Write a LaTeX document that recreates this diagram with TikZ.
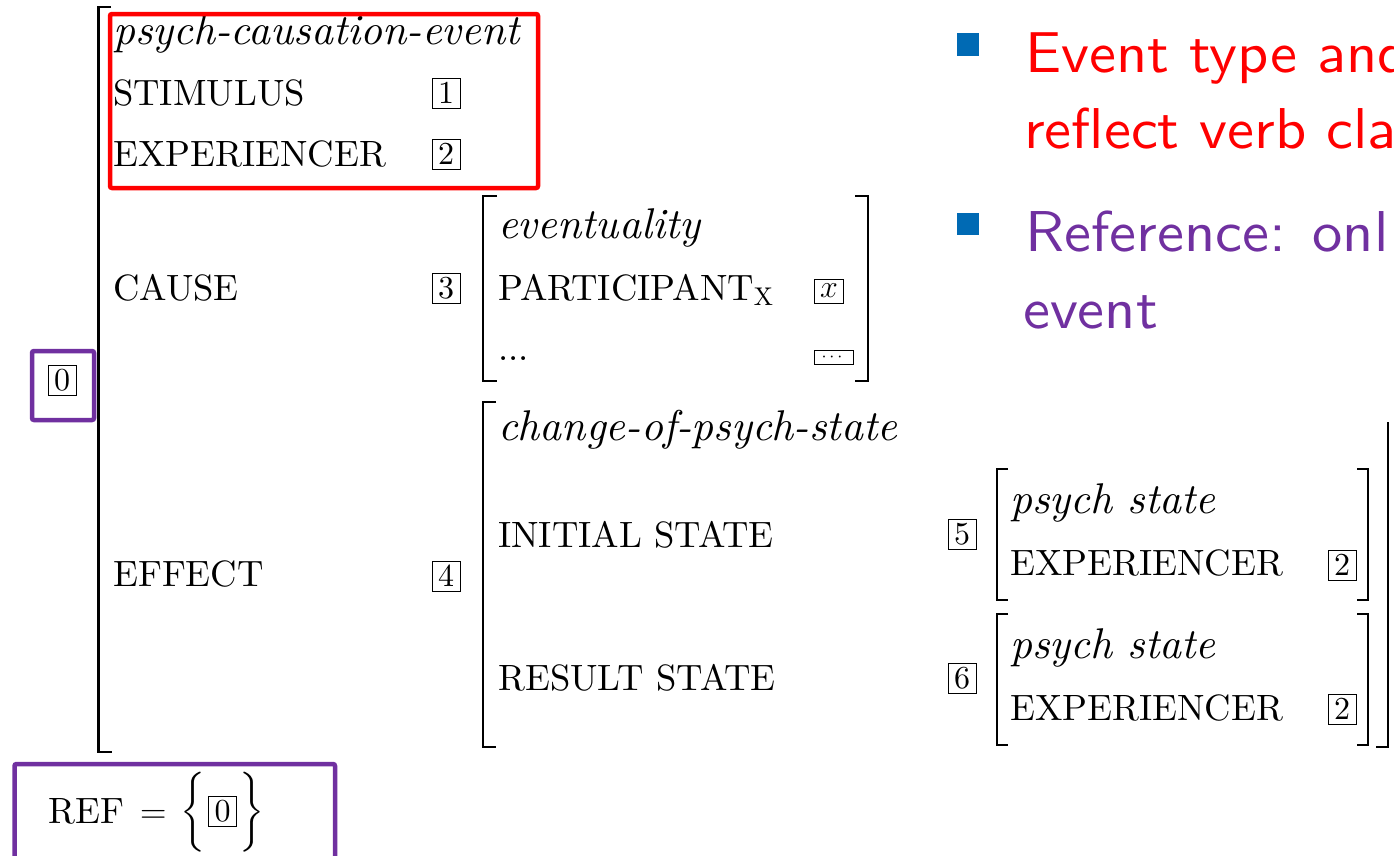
\RequirePackage{fix-cm}
\documentclass[tikz,border=0pt]{standalone}
\usepackage{amsmath}
\usepackage{graphicx}
\usepackage{fontspec}
\setmainfont{lmroman10-regular}[Extension=.otf, ItalicFont=lmroman10-italic, BoldFont=lmroman10-bold]
\setsansfont{lmsans10-regular}[Extension=.otf, BoldFont=lmsans10-bold, FakeStretch=1.05]
\definecolor{myred}{RGB}{255,0,0}
\definecolor{mypurple}{RGB}{112,48,160}
\definecolor{myblue}{RGB}{0,106,180}
\newcommand\avmfont{\fontsize{36.6}{44}\selectfont}
\newcommand\typefont{\fontsize{43}{50}\selectfont\itshape}
\newcommand\tagfont{\fontsize{32}{38}\selectfont}
\newcommand\bulfont{\fontsize{57.6}{70}\selectfont\sffamily}
\begin{document}
\begin{tikzpicture}[x=1pt,y=-1pt,
  lbl/.style={anchor=base west, inner sep=0pt, font=\avmfont},
  typ/.style={anchor=base west, inner sep=0pt, font=\typefont},
  tagbox/.style={draw, line width=1pt, inner sep=0pt, minimum width=28pt, minimum height=30pt, font=\tagfont},
  brace/.style={inner sep=0pt, font=\normalsize},
  brk/.style={line width=2.6pt, line cap=butt, line join=miter},
  hl/.style={line width=4.5pt, rounded corners=2pt},
  bul/.style={anchor=base west, inner sep=0pt, font=\bulfont},
  sq/.style={fill=myblue, draw=none}]
\useasboundingbox (0,0) rectangle (1394,855);
\clip (0,0) rectangle (1394,855);
\fill[white] (0,0) rectangle (1394,855);

% brackets
\draw[brk] (111,7) -- (98.5,7) -- (98.5,752) -- (112,752);
\draw[brk] (497,196) -- (483,196) -- (483,381) -- (497,381);
\draw[brk] (855,196) -- (868,196) -- (868,381) -- (855,381);
\draw[brk] (496,402) -- (483,402) -- (483,747) -- (496,747);
\draw[brk] (1008,469) -- (997,469) -- (997,600) -- (1008,600);
\draw[brk] (1357,469) -- (1368,469) -- (1368,600) -- (1357,600);
\draw[brk] (1008,614) -- (997,614) -- (997,745) -- (1008,745);
\draw[brk] (1357,614) -- (1368,614) -- (1368,745) -- (1357,745);
\draw[brk] (1388,422) -- (1388,747) -- (1376,747);

% outer AVM
\node[typ] (t0) at (113,44) {psych-causation-event};
\node[lbl] (stim) at (113,105) {STIMULUS};
\node[tagbox] (n1) at (446,93) {1};
\node[lbl] (exp) at (113,166) {EXPERIENCER};
\node[tagbox] (n2) at (446,154) {2};
\node[lbl] (cause) at (113,300) {CAUSE};
\node[tagbox] (n3) at (446,288) {3};
\node[lbl] (eff) at (113,586) {EFFECT};
\node[tagbox] (n4) at (446,576) {4};
\node[tagbox] (n0) at (62,380) {0};

% cause AVM
\node[typ] (ev) at (498,238) {eventuality};
\node[lbl] (part) at (498,300) {PARTICIPANT$_{\mathrm{X}}$};
\node[tagbox, minimum width=29pt, minimum height=24pt] (nx) at (829,291) {$x$};
\node[lbl] (dots) at (498,360) {...};
\node[draw, line width=1pt, inner sep=0pt, minimum width=39pt, minimum height=14pt, font=\fontsize{18}{20}\selectfont] (nd) at (833.5,357) {$\cdots$};

% effect AVM
\node[typ] (cops) at (498,440) {change-of-psych-state};
\node[lbl] (init) at (498,547) {INITIAL STATE};
\node[tagbox] (n5) at (962,534) {5};
\node[lbl] (res) at (498,690) {RESULT STATE};
\node[tagbox] (n6) at (962,678) {6};

% psych states
\node[typ] (ps1) at (1010,513) {psych state};
\node[lbl] (ex1) at (1010,575) {EXPERIENCER};
\node[tagbox] (n2a) at (1342,565) {2};
\node[typ] (ps2) at (1010,658) {psych state};
\node[lbl] (ex2) at (1010,720) {EXPERIENCER};
\node[tagbox] (n2b) at (1342,709) {2};

% REF
\node[lbl] (ref) at (48,823) {REF};
\node[lbl] (eq) at (140,823) {$=$};
\node[brace] (lb) at (192.5,812) {\resizebox*{!}{80pt}{$\bigg\{$}};
\node[tagbox] (r0) at (222.5,811.5) {0};
\node[brace] (rb) at (251.5,812) {\resizebox*{!}{80pt}{$\bigg\}$}};

% highlight boxes
\draw[hl, myred] (110,14) rectangle (538,188);
\draw[hl, mypurple] (32,351) rectangle (94,420);
\draw[hl, mypurple] (14.5,764) rectangle (335,880);

% bullets
\fill[sq] (957,33) rectangle (979,56);
\fill[sq] (957,213) rectangle (979,235);
\node[bul, text=myred] (b1a) at (1025,72) {Event type and};
\node[bul, text=myred] (b1b) at (1024,148) {reflect verb cla};
\node[bul, text=mypurple] (b2a) at (1025,251) {Reference: onl};
\node[bul, text=mypurple] (b2b) at (1023,328) {event};
\end{tikzpicture}
\end{document}
